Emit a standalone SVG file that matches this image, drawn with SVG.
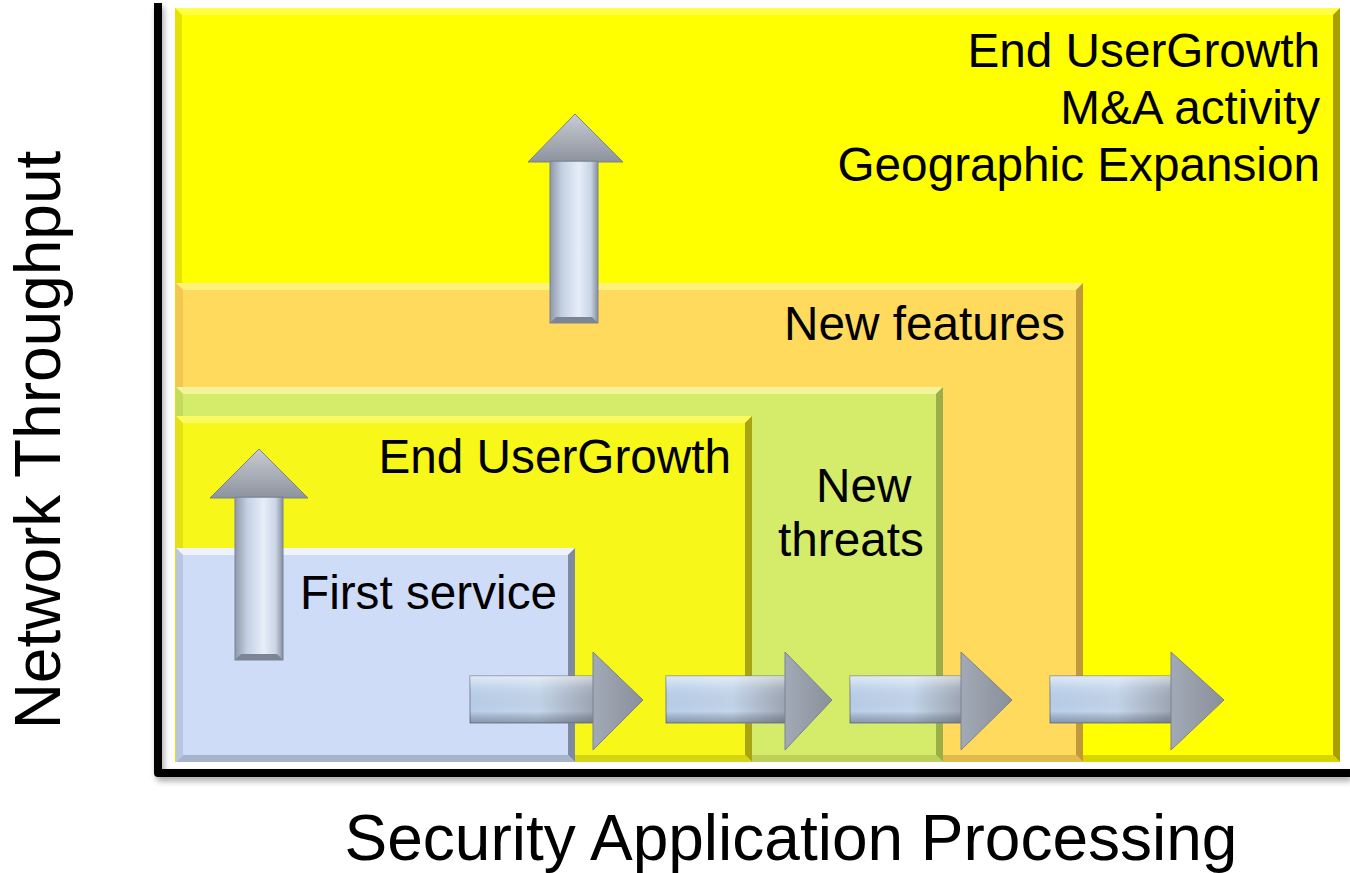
<svg xmlns="http://www.w3.org/2000/svg" width="1350" height="873" viewBox="0 0 1350 873">
<defs>
<style>
.lbl{font-family:"Liberation Sans",Arial,sans-serif;font-size:47.7px;fill:#000}
.axl{font-family:"Liberation Sans",Arial,sans-serif;font-size:64px;fill:#000}
.ar{stroke:#7a8290;stroke-width:1}
</style>
<linearGradient id="hshaft" x1="0" y1="0" x2="1" y2="0">
<stop offset="0" stop-color="#b9cfea"/>
<stop offset="0.55" stop-color="#c4d6ec"/>
<stop offset="1" stop-color="#9ea6b3"/>
</linearGradient>
<linearGradient id="hhead" x1="0" y1="0" x2="1" y2="0">
<stop offset="0" stop-color="#a2aab7"/>
<stop offset="1" stop-color="#8a909a"/>
</linearGradient>
<linearGradient id="hshade" x1="0" y1="0" x2="0" y2="1">
<stop offset="0" stop-color="#ffffff" stop-opacity="0.55"/>
<stop offset="0.25" stop-color="#ffffff" stop-opacity="0.1"/>
<stop offset="0.75" stop-color="#000000" stop-opacity="0"/>
<stop offset="1" stop-color="#2a3040" stop-opacity="0.35"/>
</linearGradient>
<linearGradient id="vshaft" x1="0" y1="0" x2="1" y2="0">
<stop offset="0" stop-color="#8f98a8"/>
<stop offset="0.25" stop-color="#c3d0e3"/>
<stop offset="0.6" stop-color="#e6eef9"/>
<stop offset="0.85" stop-color="#c9d4e4"/>
<stop offset="1" stop-color="#858e9c"/>
</linearGradient>
<linearGradient id="vhead" x1="0" y1="0" x2="0" y2="1">
<stop offset="0" stop-color="#c8ccd3"/>
<stop offset="1" stop-color="#8d939d"/>
</linearGradient>
<filter id="sh" x="-5%" y="-5%" width="110%" height="115%">
<feGaussianBlur in="SourceAlpha" stdDeviation="3"/>
<feOffset dx="2" dy="4" result="b"/>
<feComponentTransfer><feFuncA type="linear" slope="0.35"/></feComponentTransfer>
<feMerge><feMergeNode/><feMergeNode in="SourceGraphic"/></feMerge>
</filter>
</defs>

<g id="axes">
<path d="M158,3 V773 H1350" fill="none" stroke="#000" stroke-width="8" stroke-linejoin="round" filter="url(#sh)"/>
</g>

<g id="box-outer">
<rect x="175" y="8" width="1165" height="754" fill="#ffff00"/>
<polygon points="175,8 1340,8 1333,15 182,15" fill="#ffff45"/>
<polygon points="1340,8 1340,762 1333,755 1333,15" fill="#a8a000"/>
<polygon points="175,762 1340,762 1333,755 182,755" fill="#d8d400"/>
<polygon points="175,8 182,15 182,755 175,762" fill="#e6e200"/>
</g>

<g id="box-features">
<rect x="176" y="283" width="907" height="479" fill="#ffda5c"/>
<polygon points="176,283 1083,283 1076,290 183,290" fill="#fff27c"/>
<polygon points="1083,283 1083,762 1076,755 1076,290" fill="#c09a3a"/>
<polygon points="176,762 1083,762 1076,755 183,755" fill="#e0bb4c"/>
<polygon points="176,283 183,290 183,755 176,762" fill="#f2c850"/>
</g>

<g id="box-threats">
<rect x="176" y="387" width="767" height="375" fill="#d4ec6a"/>
<polygon points="176,387 943,387 936,394 183,394" fill="#f2f39a"/>
<polygon points="943,387 943,762 936,755 936,394" fill="#9cae48"/>
<polygon points="176,762 943,762 936,755 183,755" fill="#bcd05a"/>
<polygon points="176,387 183,394 183,755 176,762" fill="#c4dc5c"/>
</g>

<g id="box-growth">
<rect x="176" y="416" width="576" height="346" fill="#f7f71a"/>
<polygon points="176,416 752,416 745,423 183,423" fill="#fbfb60"/>
<polygon points="752,416 752,762 745,755 745,423" fill="#a9a512"/>
<polygon points="176,762 752,762 745,755 183,755" fill="#d6d414"/>
<polygon points="176,416 183,423 183,755 176,762" fill="#e4e216"/>
</g>

<g id="box-first">
<rect x="176" y="548" width="399" height="214" fill="#cfdcf8"/>
<polygon points="176,548 575,548 568,555 183,555" fill="#eef3fd"/>
<polygon points="575,548 575,762 568,755 568,555" fill="#7e89a2"/>
<polygon points="176,762 575,762 568,755 183,755" fill="#a8b4cc"/>
<polygon points="176,548 183,555 183,755 176,762" fill="#b8c6e2"/>
</g>

<g id="connectors">
<g id="up-small">
<rect x="235" y="497" width="48" height="163" fill="url(#vshaft)" class="ar"/>
<polygon points="259,449 308,498 283,498 283,497 235,497 235,498 210,498" fill="url(#vhead)" class="ar"/>
<polygon points="235,660 283,660 277,654 241,654" fill="#7d8594"/>
</g>
<g id="up-big">
<rect x="550" y="161" width="48" height="162" fill="url(#vshaft)" class="ar"/>
<polygon points="575,114 623,162 598,162 598,161 550,161 550,162 528,162" fill="url(#vhead)" class="ar"/>
<polygon points="550,323 598,323 592,317 556,317" fill="#7d8594"/>
</g>
<g id="right-1">
<rect x="470" y="676" width="124" height="47" fill="url(#hshaft)" class="ar"/>
<rect x="470" y="676" width="124" height="47" fill="url(#hshade)"/>
<polygon points="593,652 643,700 593,750" fill="url(#hhead)" class="ar"/>
</g>
<g id="right-2">
<rect x="666" y="676" width="120" height="47" fill="url(#hshaft)" class="ar"/>
<rect x="666" y="676" width="120" height="47" fill="url(#hshade)"/>
<polygon points="785,652 832,700 785,750" fill="url(#hhead)" class="ar"/>
</g>
<g id="right-3">
<rect x="850" y="676" width="112" height="47" fill="url(#hshaft)" class="ar"/>
<rect x="850" y="676" width="112" height="47" fill="url(#hshade)"/>
<polygon points="961,652 1012,700 961,750" fill="url(#hhead)" class="ar"/>
</g>
<g id="right-4">
<rect x="1050" y="676" width="122" height="47" fill="url(#hshaft)" class="ar"/>
<rect x="1050" y="676" width="122" height="47" fill="url(#hshade)"/>
<polygon points="1171,652 1224,700 1171,750" fill="url(#hhead)" class="ar"/>
</g>
</g>

<g id="labels">
<text class="lbl" x="1320" y="67" text-anchor="end">End UserGrowth</text>
<text class="lbl" x="1320" y="124" text-anchor="end">M&amp;A activity</text>
<text class="lbl" x="1320" y="181" text-anchor="end">Geographic Expansion</text>
<text class="lbl" x="1065" y="340" text-anchor="end">New features</text>
<text class="lbl" x="731" y="473" text-anchor="end">End UserGrowth</text>
<text class="lbl" x="816" y="502">New</text>
<text class="lbl" x="778" y="556">threats</text>
<text class="lbl" x="300" y="609">First service</text>
<text class="axl" transform="translate(60,440) rotate(-90)" text-anchor="middle">Network Throughput</text>
<text class="axl" x="791" y="860" text-anchor="middle">Security Application Processing</text>
</g>
</svg>
